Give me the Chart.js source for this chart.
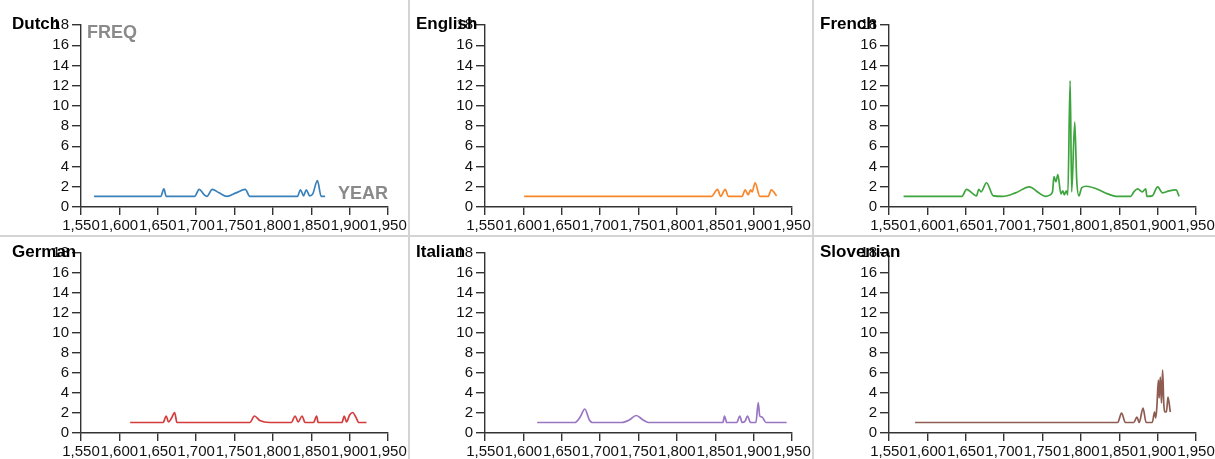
<!DOCTYPE html>
<html>
<head>
<meta charset="utf-8">
<script src="https://cdn.jsdelivr.net/npm/chart.js@4.4.0/dist/chart.umd.min.js"></script>
<style>
    body { margin: 0; background: #fff; }
    #wrap { position: relative; width: 1215px; height: 459px; overflow: hidden; background: #fff; }
    .panel { position: absolute; }
    .vline { position: absolute; top: 0; width: 2px; height: 459px; background: #d4d4d4; }
    .hline { position: absolute; left: 0; top: 235px; width: 1215px; height: 2px; background: #d4d4d4; }
</style>
</head>
<body>
<div id="wrap">
    <div class="hline"></div>
    <div class="vline" style="left:408px"></div>
    <div class="vline" style="left:812px"></div>
</div>
<script>
// Axes
const yearTicks = [1550, 1600, 1650, 1700, 1750, 1800, 1850, 1900, 1950];
const freqTicks = [0, 2, 4, 6, 8, 10, 12, 14, 16, 18];

const languages = ['Dutch', 'English', 'French', 'German', 'Italian', 'Slovenian'];
const colors = ['#3a80b9', '#f8862a', '#3ea43e', '#d43c3c', '#9a76c2', '#8e5c50'];

// Séries
const dutchYears = [1567, 1654, 1658, 1661, 1698, 1704, 1710, 1714, 1721, 1730, 1740, 1752, 1764, 1770, 1832, 1836, 1840, 1843.5, 1848, 1852, 1858, 1863, 1868];
const dutchFreq  = [1.05, 1.05, 1.8, 1.05, 1.05, 1.75, 1.25, 1.05, 1.75, 1.4, 1.05, 1.4, 1.75, 1.05, 1.05, 1.7, 1.1, 1.7, 1.1, 1.3, 2.6, 1.05, 1.05];

const englishYears = [1601, 1845, 1853, 1857, 1863, 1867, 1885, 1889, 1893, 1896, 1898, 1902, 1908, 1919, 1923, 1930];
const englishFreq  = [1.05, 1.05, 1.75, 1.05, 1.75, 1.05, 1.05, 1.7, 1.2, 1.7, 1.5, 2.4, 1.05, 1.05, 1.7, 1.1];

const frenchYears = [1569, 1645, 1651, 1658, 1664, 1667, 1670, 1677, 1686, 1698, 1715, 1733, 1745, 1754, 1760, 1763, 1765, 1767.5, 1770, 1774, 1776.5, 1778.5, 1781, 1783, 1786, 1788, 1792, 1794.5, 1797.5, 1801, 1807, 1820, 1835, 1846, 1865, 1869, 1874, 1880, 1884.5, 1886, 1893, 1900, 1906.5, 1915, 1924, 1928];
const frenchFreq  = [1.05, 1.05, 1.75, 1.4, 1.1, 1.75, 1.5, 2.4, 1.1, 1.05, 1.4, 2.0, 1.4, 1.05, 1.2, 1.5, 3.0, 2.5, 3.2, 1.3, 1.6, 1.2, 1.6, 1.2, 12.5, 1.5, 8.4, 2.8, 1.1, 1.9, 2.05, 1.8, 1.3, 1.05, 1.05, 1.5, 1.8, 1.5, 1.8, 1.05, 1.1, 2.0, 1.4, 1.6, 1.7, 1.05];

const germanYears = [1614, 1657, 1661, 1664, 1668, 1672, 1675, 1770, 1776, 1783, 1796, 1824, 1829, 1833, 1838, 1842, 1853, 1857, 1859, 1890, 1893, 1896, 1900, 1904, 1908, 1912, 1922];
const germanFreq  = [1.05, 1.05, 1.7, 1.1, 1.5, 2.05, 1.05, 1.05, 1.7, 1.25, 1.05, 1.05, 1.7, 1.1, 1.7, 1.05, 1.05, 1.7, 1.05, 1.05, 1.7, 1.1, 1.8, 2.05, 1.6, 1.05, 1.05];

const italianYears = [1618, 1667, 1674, 1680, 1686, 1690, 1728, 1738, 1747, 1756, 1763, 1860, 1862, 1865, 1878, 1882, 1885, 1889, 1892, 1896, 1903, 1906, 1908, 1911, 1916, 1943];
const italianFreq  = [1.05, 1.05, 1.6, 2.4, 1.3, 1.05, 1.05, 1.3, 1.75, 1.3, 1.05, 1.05, 1.7, 1.05, 1.05, 1.7, 1.05, 1.2, 1.7, 1.05, 1.05, 3.05, 1.7, 1.6, 1.05, 1.05];

const slovenianYears = [1584, 1848, 1853, 1858, 1869, 1873, 1876, 1881, 1885, 1893, 1896, 1897.5, 1899, 1901, 1902, 1903.5, 1905, 1906.5, 1908, 1910, 1911.5, 1913.5, 1916.5];
const slovenianFreq  = [1.05, 1.05, 2.0, 1.05, 1.05, 1.6, 1.05, 2.5, 1.05, 1.05, 2.1, 1.5, 2.6, 5.3, 3.5, 5.6, 3.0, 6.3, 3.0, 2.1, 2.1, 3.6, 2.1];

const seriesYears = [dutchYears, englishYears, frenchYears, germanYears, italianYears, slovenianYears];
const seriesFreq = [dutchFreq, englishFreq, frenchFreq, germanFreq, italianFreq, slovenianFreq];

const FONT = '"Liberation Sans", Arial, Helvetica, sans-serif';

// Titre + libellés FREQ / YEAR
const panelText = {
    id: 'panelText',
    afterDraw(chart, args, opts) {
        const { ctx, chartArea } = chart;
        ctx.save();
        ctx.textBaseline = 'alphabetic';
        if (opts.axisNames) {
            ctx.fillStyle = '#8a8a8a';
            ctx.font = 'bold 18px ' + FONT;
            ctx.textAlign = 'left';
            ctx.fillText('FREQ', chartArea.left + 6, chartArea.top + 13);
            ctx.textAlign = 'right';
            ctx.fillText('YEAR', chartArea.right, chartArea.bottom - 8);
        }
        ctx.fillStyle = '#000';
        ctx.font = 'bold 17px ' + FONT;
        ctx.textAlign = 'left';
        ctx.fillText(opts.title, 7, chartArea.top + 4);
        ctx.restore();
    }
};

function makePanel(i) {
    const col = i % 3;
    const row = Math.floor(i / 3);
    const left = 5 + col * 404;
    const top = row === 0 ? 0 : 237;
    const width = 404;
    const height = row === 0 ? 236 : 222;
    const padTop = row === 0 ? 25 : 16;
    const xAxisHeight = row === 0 ? 29 : 26;

    const div = document.createElement('div');
    div.className = 'panel';
    div.style.left = left + 'px';
    div.style.top = top + 'px';
    const canvas = document.createElement('canvas');
    canvas.width = width;
    canvas.height = height;
    canvas.style.width = width + 'px';
    canvas.style.height = height + 'px';
    div.appendChild(canvas);
    document.getElementById('wrap').appendChild(div);

    const years = seriesYears[i];
    const freq = seriesFreq[i];

    new Chart(canvas, {
        type: 'line',
        data: {
            datasets: [{
                data: years.map((x, k) => ({ x: x, y: freq[k] })),
                borderColor: colors[i],
                borderWidth: 1.7,
                pointRadius: 0,
                fill: false,
                cubicInterpolationMode: 'monotone'
            }]
        },
        options: {
            responsive: false,
            animation: false,
            events: [],
            layout: { padding: { top: padTop, right: 21, left: 0, bottom: 0 } },
            plugins: {
                legend: { display: false },
                tooltip: { enabled: false },
                panelText: { title: languages[i], axisNames: i === 0 }
            },
            scales: {
                x: {
                    type: 'linear',
                    min: yearTicks[0],
                    max: yearTicks[yearTicks.length - 1],
                    ticks: {
                        stepSize: yearTicks[1] - yearTicks[0],
                        autoSkip: false,
                        maxRotation: 0,
                        padding: 2,
                        color: '#111',
                        font: { family: FONT, size: 15 }
                    },
                    grid: { drawOnChartArea: false, tickLength: 8, color: '#333', lineWidth: 1.4 },
                    border: { color: '#333', width: 1.4 },
                    afterFit: s => { s.height = xAxisHeight; }
                },
                y: {
                    min: freqTicks[0],
                    max: freqTicks[freqTicks.length - 1],
                    ticks: {
                        stepSize: freqTicks[1] - freqTicks[0],
                        autoSkip: false,
                        padding: 3,
                        color: '#111',
                        font: { family: FONT, size: 15 }
                    },
                    grid: { drawOnChartArea: false, tickLength: 9, color: '#333', lineWidth: 1.4 },
                    border: { color: '#333', width: 1.4 },
                    afterFit: s => { s.width = 76; }
                }
            }
        },
        plugins: [panelText]
    });
}

languages.forEach((lang, i) => makePanel(i));
</script>
</body>
</html>
